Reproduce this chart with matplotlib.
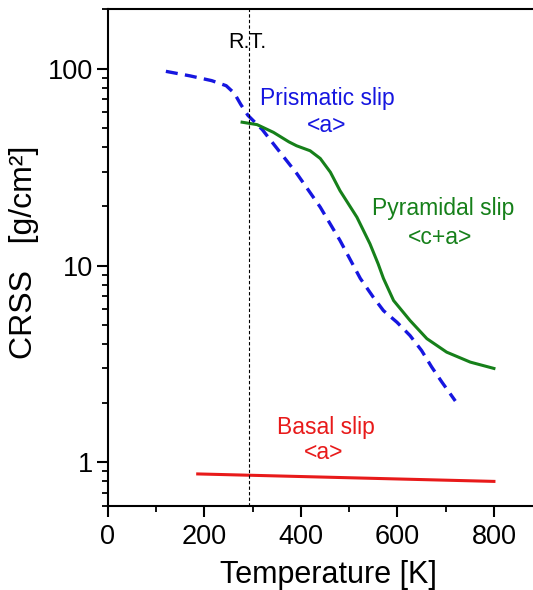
# CRSS vs temperature for the slip systems
import numpy as np
import matplotlib
matplotlib.use('Agg')
import matplotlib.pyplot as plt
from matplotlib.ticker import MultipleLocator, LogLocator, FixedLocator, NullFormatter

plt.rcParams['font.family'] = ['Liberation Sans', 'DejaVu Sans']

# Prismatic slip <a> (dashed blue)
prism_T = [120, 170, 215, 245, 262, 275, 290, 320, 343, 392, 440, 481, 523,
           550, 571, 599, 626, 650, 671, 692, 720]
prism_crss = [97, 92, 87, 82, 75, 66, 58, 49, 41.5, 29.2, 19.8, 13.4, 8.6,
              6.9, 5.9, 5.15, 4.41, 3.7, 3.05, 2.56, 2.05]

# Pyramidal slip <c+a> (solid green)
pyr_T = [278, 309, 343, 375, 391, 419, 440, 461, 481, 516, 543, 560, 571,
         592, 626, 661, 702, 751, 800]
pyr_crss = [53.5, 52, 47.5, 42.5, 40.6, 38.3, 35, 29.8, 24, 17.6, 12.9, 10.2, 8.6,
            6.64, 5.26, 4.25, 3.63, 3.23, 3.0]

# Basal slip <a> (solid red)
basal_T = [186, 800]
basal_crss = [0.873, 0.80]

room_temp = 293

blue = '#1616E0'
green = '#16801A'
red = '#E81A1A'

fig = plt.figure(figsize=(5.33, 5.9), dpi=100)
ax = fig.add_axes([0.2026, 0.1424, 0.7974, 0.8415])

ax.plot(prism_T, prism_crss, color=blue, lw=2.4, dashes=(3.6, 2.2))
ax.plot(pyr_T, pyr_crss, color=green, lw=2.2)
ax.plot(basal_T, basal_crss, color=red, lw=2.2)
ax.axvline(room_temp, color='black', lw=0.8, linestyle=(0, (3, 2)))

ax.set_yscale('log')
ax.set_xlim(0, 881)
ax.set_ylim(0.6, 200)

ax.xaxis.set_major_locator(MultipleLocator(200))
ax.xaxis.set_minor_locator(MultipleLocator(100))
ax.yaxis.set_major_locator(FixedLocator([1, 10, 100]))
ax.yaxis.set_minor_locator(LogLocator(base=10, subs=np.arange(2, 10)))
ax.yaxis.set_minor_formatter(NullFormatter())
ax.set_yticklabels(['1', '10', '100'])

ax.spines['right'].set_visible(False)
for s in ['left', 'bottom', 'top']:
    ax.spines[s].set_linewidth(1.5)
ax.tick_params(axis='both', which='major', direction='out', length=8, width=1.5,
               labelsize=19.5, pad=3)
ax.tick_params(axis='both', which='minor', direction='out', length=4.5, width=1.3)
ax.tick_params(axis='x', which='major', pad=5)
ax.tick_params(top=False, right=False, which='both')

ax.set_xlabel('Temperature [K]', fontsize=22)
ax.xaxis.set_label_coords(0.519, -0.109)
ax.set_ylabel('CRSS   [g/cm²]', fontsize=23)
ax.yaxis.set_label_coords(-0.163, 0.51)

ax.text(289, 136, 'R.T.', fontsize=15.5, color='black', ha='center', va='center')
ax.text(455, 71, 'Prismatic slip', fontsize=16.5, color=blue, ha='center', va='center')
ax.text(454, 51.4, '<a>', fontsize=16.5, color=blue, ha='center', va='center')
ax.text(694, 19.4, 'Pyramidal slip', fontsize=16.5, color=green, ha='center', va='center')
ax.text(688, 13.9, '<c+a>', fontsize=16.5, color=green, ha='center', va='center')
ax.text(452, 1.5, 'Basal slip', fontsize=16.5, color=red, ha='center', va='center')
ax.text(446, 1.12, '<a>', fontsize=16.5, color=red, ha='center', va='center')

plt.savefig('out.png', dpi=100)
